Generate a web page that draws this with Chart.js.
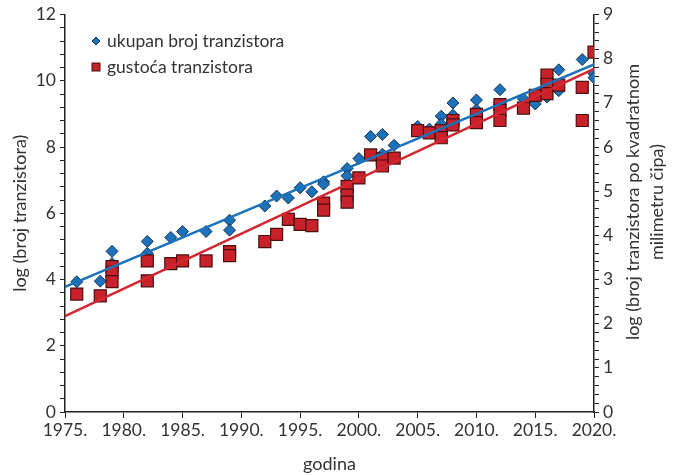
<!DOCTYPE html>
<html>
<head>
<meta charset="utf-8">
<script src="https://cdn.jsdelivr.net/npm/chart.js@4"></script>
<style>
  html, body { margin: 0; padding: 0; background: #fff; }
  #wrap { width: 676px; height: 475px; }
</style>
</head>
<body>
<div id="wrap"><canvas id="myChart" width="676" height="475"></canvas></div>
<script>
// ukupan broj tranzistora (lijeva os)
let blueYears = [1976,1978,1979,1979,1982,1982,1984,1985,1987,1989,1989,1992,1993,1994,1995,1996,1997,1997,1999,1999,2000,2001,2002,2002,2003,2005,2006,2007,2007,2008,2008,2010,2010,2012,2012,2014,2015,2016,2017,2017,2019,2020,2020];
let blueVals = [3.93,3.95,4.85,4.48,5.15,4.79,5.27,5.45,5.45,5.79,5.49,6.22,6.52,6.46,6.77,6.65,6.95,6.88,7.35,7.13,7.65,8.32,8.38,7.78,8.05,8.62,8.54,8.93,8.69,9.33,8.96,9.42,9.12,9.73,9.15,9.45,9.3,9.51,10.33,9.7,10.64,10.21,10.09];

// gustoca tranzistora (desna os)
let redYears = [1976,1978,1979,1979,1979,1982,1982,1984,1985,1987,1989,1989,1992,1993,1994,1995,1996,1997,1997,1999,1999,1999,2000,2001,2002,2002,2003,2005,2006,2007,2007,2008,2008,2010,2010,2012,2012,2012,2014,2015,2016,2016,2016,2017,2019,2019,2020];
let redVals = [2.67,2.63,3.29,3.17,2.95,3.42,2.97,3.36,3.42,3.42,3.63,3.54,3.86,4.02,4.36,4.25,4.22,4.73,4.57,5.11,4.91,4.75,5.30,5.82,5.73,5.57,5.75,6.37,6.32,6.37,6.21,6.6,6.5,6.74,6.55,6.96,6.83,6.6,6.88,7.17,7.63,7.42,7.21,7.4,7.35,6.6,8.15];

// trend lines
let trendYears = [1975, 2020];
let blueTrend = [3.78, 10.49];
let redTrend = [2.17, 7.77];

let legendLabels = ['ukupan broj tranzistora', 'gustoća tranzistora'];

const FONT = 'Lato, "Open Sans", sans-serif';
const TXT = '#333';
const BLUE = '#1b72bb';
const RED = '#c8212a';

function pts(xs, ys) { return xs.map((x, i) => ({x: x, y: ys[i]})); }

const legendAndTitle = {
  id: 'legendAndTitle',
  afterDraw(chart) {
    const c = chart.ctx;
    c.save();
    // legend
    c.font = '17.5px ' + FONT;
    c.textBaseline = 'middle';
    c.textAlign = 'left';
    c.fillStyle = BLUE;
    c.strokeStyle = '#1a3550';
    c.lineWidth = 1;
    c.beginPath();
    c.moveTo(96, 37); c.lineTo(100, 41); c.lineTo(96, 45); c.lineTo(92, 41); c.closePath();
    c.fill(); c.stroke();
    c.fillStyle = TXT;
    c.fillText(legendLabels[0], 107, 41);
    c.fillStyle = RED;
    c.strokeStyle = '#4a1010';
    c.fillRect(92, 63, 8, 8);
    c.strokeRect(92, 63, 8, 8);
    c.fillStyle = TXT;
    c.fillText(legendLabels[1], 107, 67);
    // right axis title, reading bottom to top
    c.translate(645, 202);
    c.rotate(-Math.PI / 2);
    c.textAlign = 'center';
    c.font = '18px ' + FONT;
    c.fillText('log (broj tranzistora po kvadratnom', 0, -12);
    c.fillText('milimetru čipa)', 0, 12);
    c.restore();
  }
};

let ctx = document.querySelector('#myChart').getContext('2d');
let myChart = new Chart(ctx, {
  type: 'scatter',
  data: {
    datasets: [
      {
        type: 'line',
        data: pts(trendYears, blueTrend),
        borderColor: BLUE,
        borderWidth: 2.5,
        pointRadius: 0,
        yAxisID: 'y',
        order: 1
      },
      {
        type: 'line',
        data: pts(trendYears, redTrend),
        borderColor: '#d22630',
        borderWidth: 2.5,
        pointRadius: 0,
        yAxisID: 'y1',
        order: 0
      },
      {
        label: legendLabels[0],
        data: pts(blueYears, blueVals),
        pointStyle: 'rectRot',
        pointRadius: 6,
        backgroundColor: BLUE,
        borderColor: '#1a3550',
        borderWidth: 1,
        yAxisID: 'y',
        order: 3
      },
      {
        label: legendLabels[1],
        data: pts(redYears, redVals),
        pointStyle: 'rect',
        pointRadius: 8.5,
        backgroundColor: RED,
        borderColor: '#4a1010',
        borderWidth: 1.2,
        yAxisID: 'y1',
        order: 2
      }
    ]
  },
  options: {
    responsive: false,
    animation: false,
    layout: { padding: { top: 10, right: 0, bottom: 0, left: 9 } },
    plugins: { legend: { display: false }, tooltip: { enabled: false } },
    scales: {
      x: {
        type: 'linear',
        min: 1975,
        max: 2020,
        afterFit(s) { s.height = 63; },
        ticks: {
          stepSize: 5,
          color: TXT,
          font: { family: FONT, size: 17.5 },
          maxRotation: 0,
          padding: 2,
          callback: v => v + '.'
        },
        grid: { drawOnChartArea: false, tickLength: 6, color: '#222' },
        border: { color: '#222', width: 1.5 },
        title: {
          display: true,
          text: 'godina',
          color: TXT,
          font: { family: FONT, size: 18 },
          padding: { top: 0, bottom: 0 }
        }
      },
      y: {
        position: 'left',
        min: 0,
        max: 12,
        afterFit(s) { s.width = 56; },
        ticks: {
          stepSize: 0.4,
          autoSkip: false,
          color: TXT,
          font: { family: FONT, size: 17.5 },
          padding: 4,
          callback: v => (Math.abs(v / 2 - Math.round(v / 2)) < 1e-6 ? String(Math.round(v)) : '')
        },
        grid: { drawOnChartArea: false, tickLength: 5, color: '#222' },
        border: { color: '#222', width: 1.5 },
        title: {
          display: true,
          text: 'log (broj tranzistora)',
          color: TXT,
          font: { family: FONT, size: 18 },
          padding: { top: 0, bottom: 0 }
        }
      },
      y1: {
        position: 'right',
        min: 0,
        max: 9,
        afterFit(s) { s.width = 82; },
        ticks: {
          stepSize: 0.2,
          autoSkip: false,
          color: TXT,
          font: { family: FONT, size: 17.5 },
          padding: 4,
          callback: v => (Math.abs(v - Math.round(v)) < 1e-6 ? String(Math.round(v)) : '')
        },
        grid: { drawOnChartArea: false, tickLength: 5, color: '#222' },
        border: { color: '#222', width: 1.5 }
      }
    }
  },
  plugins: [legendAndTitle]
});
</script>
</body>
</html>
